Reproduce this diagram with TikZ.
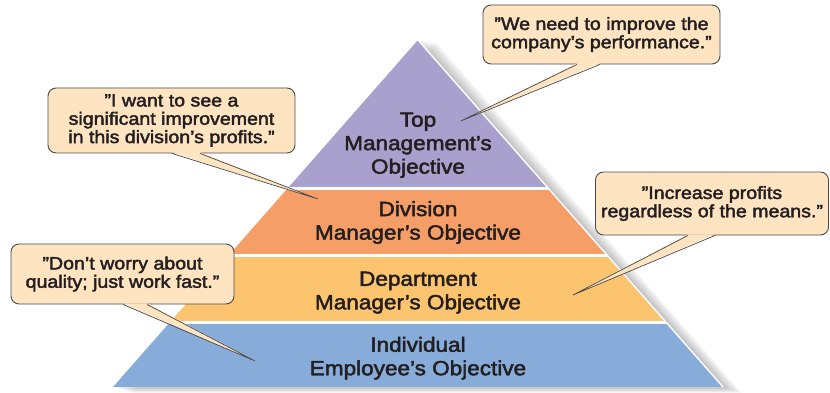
\documentclass[tikz,border=0pt]{standalone}
\usepackage{fontspec}
\setmainfont{Liberation Sans}[FakeStretch=1.1, FakeBold=2.3]
\usetikzlibrary{calc}
\definecolor{tTop}{HTML}{A9A1CD}
\definecolor{tDiv}{HTML}{F69E68}
\definecolor{tDep}{HTML}{FDC46F}
\definecolor{tInd}{HTML}{88ACDA}
\definecolor{bub}{HTML}{FEE4C1}
\definecolor{edge}{HTML}{4A4A4A}
\definecolor{txt}{HTML}{231F20}
\tikzset{
  tier/.style={font=\fontsize{20.5}{23.5}\selectfont, text=txt, align=center,
               inner sep=0pt},
  bubble/.style={draw=edge, fill=bub, line width=0.9pt, rounded corners=8pt,
                 font=\fontsize{17.8}{18.3}\selectfont, text=txt, align=center,
                 inner sep=0pt},
  ptr/.style={draw=edge, line width=0.7pt, line join=miter},
  % the wedge body, pushed a little into the bubble to hide its border
  ptrfill/.style={fill=bub},
}

\begin{document}
\begin{tikzpicture}[x=1pt, y=-1pt]
\useasboundingbox (0,0) rectangle (830,393);

\coordinate (apex) at (418,40);
\coordinate (bl) at (113,387);
\coordinate (br) at (723,387);

%% ── soft shadow ───────────────────────────────────────────────────────────
\foreach \s in {1,...,10}
  \fill[black, opacity=0.028]
    ($(apex)+(\s*1.9,\s*0.3)$) -- ($(br)+(\s*1.9,\s*0.6)$)
    -- ($(bl)+(\s*1.9,\s*0.6)$) -- cycle;
\fill[white] (apex) -- (br) -- (bl) -- cycle;

%% ── the four tiers ────────────────────────────────────────────────────────
\begin{scope}
  \clip (apex) -- (br) -- (bl) -- cycle;
  \fill[tTop] (0,0)   rectangle (830,187);
  \fill[tDiv] (0,190) rectangle (830,254);
  \fill[tDep] (0,257) rectangle (830,321);
  \fill[tInd] (0,324) rectangle (830,387);
\end{scope}
\draw[white, line width=1.4pt] (apex) -- (br);

\node[tier] (top) at (418,145.2) {Top\\Management’s\\Objective};
\node[tier] (div) at (418,222.5) {Division\\Manager’s Objective};
\node[tier] (dep) at (418,292.6) {Department\\Manager’s Objective};
\node[tier] (ind) at (418,358.2) {Individual\\Employee’s Objective};

%% ── speech bubbles ────────────────────────────────────────────────────────
\node[bubble, minimum width=237pt, minimum height=59pt] (c1) at (601.5,34.5)
  {”We need to improve the\\company’s performance.”};
\node[bubble, minimum width=247pt, minimum height=65pt] (c2) at (171.5,120.5)
  {”I want to see a\\significant improvement\\in this division’s profits.”};
\node[bubble, minimum width=223pt, minimum height=60pt] (c3) at (122.5,274)
  {”Don’t worry about\\quality; just work fast.”};
\node[bubble, minimum width=233pt, minimum height=63pt] (c4) at (712,203.5)
  {”Increase profits\\regardless of the means.”};

\coordinate (p1) at (460.7,121);
\coordinate (p2) at (318,199);
\coordinate (p3) at (255,361);
\coordinate (p4) at (573,295);

%% ── pointers ──────────────────────────────────────────────────────────────
\fill[ptrfill] ([xshift=-24.5pt, yshift=1.2pt]c1.south) -- (p1)
  -- ([xshift=-1.5pt, yshift=1.2pt]c1.south) -- cycle;
\draw[ptr] ([xshift=-24.5pt]c1.south) -- (p1) -- ([xshift=-1.5pt]c1.south);

\fill[ptrfill] ([xshift=0.5pt, yshift=1.2pt]c2.south) -- (p2)
  -- ([xshift=28.5pt, yshift=1.2pt]c2.south) -- cycle;
\draw[ptr] ([xshift=0.5pt]c2.south) -- (p2) -- ([xshift=28.5pt]c2.south);

\fill[ptrfill] ([xshift=0.5pt, yshift=1.2pt]c3.south) -- (p3)
  -- ([xshift=24.5pt, yshift=1.2pt]c3.south) -- cycle;
\draw[ptr] ([xshift=0.5pt]c3.south) -- (p3) -- ([xshift=24.5pt]c3.south);

\fill[ptrfill] ([xshift=-24pt, yshift=1.2pt]c4.south) -- (p4)
  -- ([xshift=3pt, yshift=1.2pt]c4.south) -- cycle;
\draw[ptr] ([xshift=-24pt]c4.south) -- (p4) -- ([xshift=3pt]c4.south);

\end{tikzpicture}
\end{document}
